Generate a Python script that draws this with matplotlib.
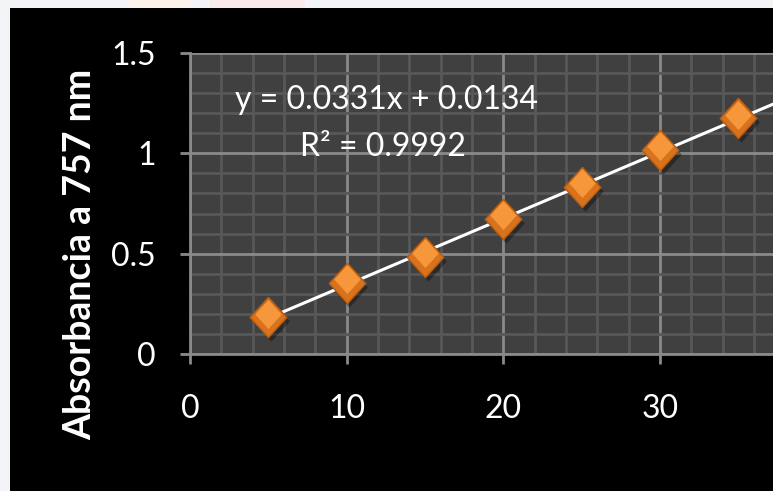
import matplotlib
matplotlib.use("Agg")
import matplotlib.pyplot as plt
import matplotlib.transforms as mtransforms
from matplotlib.patches import Rectangle
from matplotlib.ticker import MultipleLocator
import numpy as np

# data
concentration = [5, 10, 15, 20, 25, 30, 35]
absorbance = [0.184, 0.354, 0.484, 0.673, 0.833, 1.017, 1.176]
slope = 0.0331
intercept = 0.0134
r_squared = 0.9992
trend_x = [5, 40]
x_ticks = [0, 10, 20, 30]
y_ticks = [0, 0.5, 1, 1.5]
y_tick_labels = ["0", "0.5", "1", "1.5"]
y_label = "Absorbancia a 757 nm"

W, H = 773, 491
fig = plt.figure(figsize=(W / 100, H / 100), dpi=100, facecolor="#f3f4f7")

# page background pieces around the black slide area
fig.patches.append(Rectangle((10 / W, 0), 1, 1 - 8 / H, transform=fig.transFigure,
                             facecolor="black", edgecolor="none", zorder=-10))
fig.patches.append(Rectangle((130 / W, 1 - 8 / H), 60 / W, 8 / H, transform=fig.transFigure,
                             facecolor="#fdf3ea", edgecolor="none", zorder=-10))
fig.patches.append(Rectangle((210 / W, 1 - 8 / H), 95 / W, 8 / H, transform=fig.transFigure,
                             facecolor="#fbeaec", edgecolor="none", zorder=-10))

left, bottom = 190 / W, (H - 354) / H
ax = fig.add_axes([left, bottom, 40 * 15.67 / W, (354 - 53) / H])
ax.set_facecolor("#404040")
ax.set_xlim(0, 40)
ax.set_ylim(0, 1.5)

grid_major = "#8a8a8a"
grid_minor = "#585858"
ax.xaxis.set_minor_locator(MultipleLocator(2))
ax.yaxis.set_minor_locator(MultipleLocator(0.1))
ax.set_xticks(x_ticks)
ax.set_yticks(y_ticks, labels=y_tick_labels)
ax.grid(which="minor", color=grid_minor, linewidth=2.0)
ax.grid(which="major", color=grid_major, linewidth=2.0)
ax.set_axisbelow(True)

for side in ["top", "right"]:
    ax.spines[side].set_visible(False)
for side in ["left", "bottom"]:
    ax.spines[side].set_color(grid_major)
    ax.spines[side].set_linewidth(2.0)

ax.tick_params(which="major", direction="out", length=7.5, width=2.0, color=grid_major,
               labelcolor="white", labelsize=23)
ax.tick_params(axis="y", pad=17)
ax.tick_params(axis="x", pad=21)
ax.tick_params(which="minor", length=0)
for lab in ax.get_xticklabels() + ax.get_yticklabels():
    lab.set_fontfamily("Lato")

# trendline
tx = np.array(trend_x, dtype=float)
ax.plot(tx, slope * tx + intercept, color="white", linewidth=2.2, zorder=4, clip_on=True)

# diamond markers, a little taller than wide, with a simple bevelled look
diamond = [(0, 1.1), (1, 0), (0, -1.1), (-1, 0), (0, 1.1)]
shadow = mtransforms.offset_copy(ax.transData, fig=fig, x=2, y=-3, units="points")
raised = mtransforms.offset_copy(ax.transData, fig=fig, x=0, y=2.5, units="points")
ax.plot(concentration, absorbance, linestyle="none", marker=diamond, markersize=29,
        color="black", alpha=0.35, markeredgewidth=0, transform=shadow, zorder=3)
ax.plot(concentration, absorbance, linestyle="none", marker=diamond, markersize=29,
        markerfacecolor="#d8721c", markeredgecolor="#b65c12", markeredgewidth=1.0, zorder=5)
ax.plot(concentration, absorbance, linestyle="none", marker=diamond, markersize=21,
        markerfacecolor="#f5973a", markeredgewidth=0, transform=raised, zorder=6)

ax.text(2.87, 1.266, f"y = {slope}x + {intercept}", color="white", fontsize=23,
        fontfamily="Lato", ha="left", va="center", zorder=7)
ax.text(7.0, 1.032, f"R² = {r_squared}", color="white", fontsize=23,
        fontfamily="Lato", ha="left", va="center", zorder=7)

fig.text(80 / W, 1 - 254 / H, y_label, rotation=90, color="white", fontsize=27,
         fontweight="bold", fontfamily="Lato", ha="center", va="center")

fig.savefig("out.png", dpi=100, facecolor=fig.get_facecolor())
